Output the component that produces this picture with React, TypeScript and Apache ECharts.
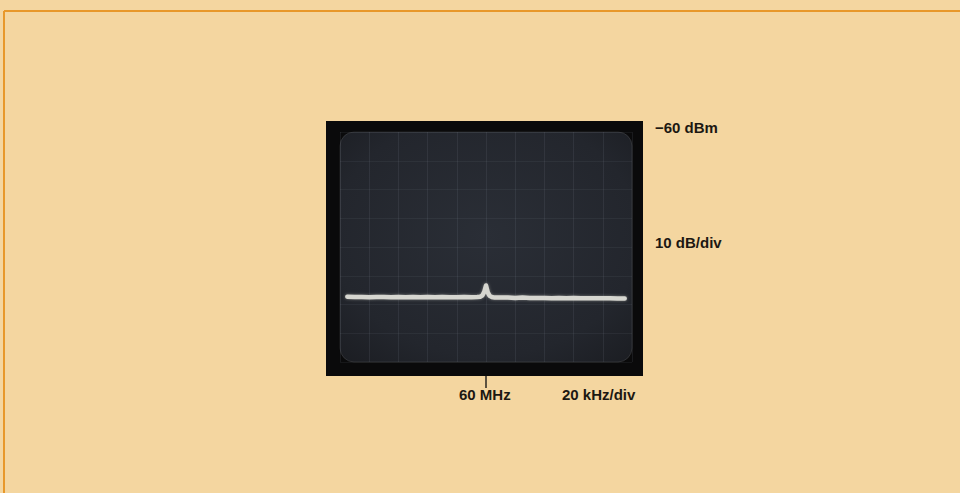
import React, { useEffect, useRef } from "react";
import * as echarts from "echarts";

// Frequency offset from 60 MHz centre, kHz (20 kHz/div, 10 divisions)
const freqOffsetKHz = [
  -95, -90, -85, -80, -75, -70, -65, -60, -55, -50, -45, -40, -35, -30, -25, -20,
  -15, -10, -6, -4, -2.5, -1.2, 0, 1.2, 2.5, 4, 6, 10, 15, 20, 25, 30, 35, 40, 45,
  50, 55, 60, 65, 70, 75, 80, 85, 90, 95,
];
// Displayed level, dBm (top = -60 dBm, 10 dB/div, 8 divisions)
const levelDBm = [
  -117.3, -117.4, -117.4, -117.5, -117.4, -117.4, -117.5, -117.4, -117.5, -117.4, -117.5, -117.4,
  -117.5, -117.4, -117.5, -117.5, -117.4, -117.5, -117.4, -117.3, -116.9, -115.6, -113.4, -115.8,
  -117.0, -117.4, -117.6, -117.6, -117.6, -117.7, -117.6, -117.7, -117.7, -117.7, -117.8, -117.7,
  -117.8, -117.7, -117.8, -117.8, -117.8, -117.8, -117.8, -117.9, -117.9,
];
const yTop = -60;
const yBottom = -140;
const yStep = 10;
const xMin = -100;
const xMax = 100;
const xStep = 20;
const labelRef = "\u221260 dBm";
const labelScale = "10 dB/div";
const labelCentre = "60 MHz";
const labelSpan = "20 kHz/div";

export default function App() {
  const ref = useRef<HTMLDivElement>(null);
  useEffect(() => {
    if (!ref.current) return;
    const chart = echarts.init(ref.current, undefined, { renderer: "svg" });
    const gL = 340, gT = 132, gW = 292, gH = 230;
    const font = '"Liberation Sans", Arial, Helvetica, sans-serif';
    const ink = "#1c1812";
    chart.setOption({
      animation: false,
      backgroundColor: "#f4d6a0",
      grid: { left: gL, top: gT, width: gW, height: gH, containLabel: false },
      xAxis: {
        type: "value",
        min: xMin,
        max: xMax,
        interval: xStep,
        axisLine: { show: false },
        axisTick: { show: false },
        axisLabel: { show: false },
        splitLine: { show: true, lineStyle: { color: "rgba(140,150,165,0.13)", width: 1 } },
      },
      yAxis: {
        type: "value",
        min: yBottom,
        max: yTop,
        interval: yStep,
        axisLine: { show: false },
        axisTick: { show: false },
        axisLabel: { show: false },
        splitLine: { show: true, lineStyle: { color: "rgba(140,150,165,0.09)", width: 1 } },
      },
      graphic: [
        // orange page rule
        { type: "line", z: -10, shape: { x1: 4, y1: 11, x2: 960, y2: 11 }, style: { stroke: "#e8982a", lineWidth: 2 } },
        { type: "line", z: -10, shape: { x1: 4, y1: 11, x2: 4, y2: 493 }, style: { stroke: "#e8982a", lineWidth: 2 } },
        // CRT bezel
        { type: "rect", z: -10, shape: { x: 326, y: 121, width: 317, height: 255 }, style: { fill: "#0a0a0b" } },
        // screen
        {
          type: "rect",
          z: -9,
          shape: { x: gL, y: gT, width: gW, height: gH, r: 14 },
          style: {
            fill: {
              type: "radial",
              x: 0.5,
              y: 0.45,
              r: 0.75,
              colorStops: [
                { offset: 0, color: "#2a2e36" },
                { offset: 0.7, color: "#23262d" },
                { offset: 1, color: "#1b1d22" },
              ],
            },
            stroke: "rgba(190,190,190,0.14)",
            lineWidth: 1,
          },
        },
        // centre tick below bezel
        { type: "line", shape: { x1: 486, y1: 376, x2: 486, y2: 388 }, style: { stroke: "#2a2620", lineWidth: 1.5 } },
        { type: "text", x: 655, y: 120, style: { text: labelRef, font: `bold 15px ${font}`, fill: ink } },
        { type: "text", x: 655, y: 235, style: { text: labelScale, font: `bold 15px ${font}`, fill: ink } },
        { type: "text", x: 459, y: 387, style: { text: labelCentre, font: `bold 15px ${font}`, fill: ink } },
        { type: "text", x: 562, y: 387, style: { text: labelSpan, font: `bold 15px ${font}`, fill: ink } },
      ],
      series: [
        {
          type: "line",
          data: freqOffsetKHz.map((f, i) => [f, levelDBm[i]]),
          symbol: "none",
          smooth: false,
          lineStyle: {
            color: "#d6d6d0",
            width: 4.5,
            shadowColor: "rgba(220,220,210,0.45)",
            shadowBlur: 3,
            cap: "round",
            join: "round",
          },
          z: 5,
        },
      ],
    });
    return () => chart.dispose();
  }, []);
  return (
    <div
      ref={ref}
      style={{ position: "fixed", left: 0, top: 0, width: 960, height: 493 }}
    />
  );
}
